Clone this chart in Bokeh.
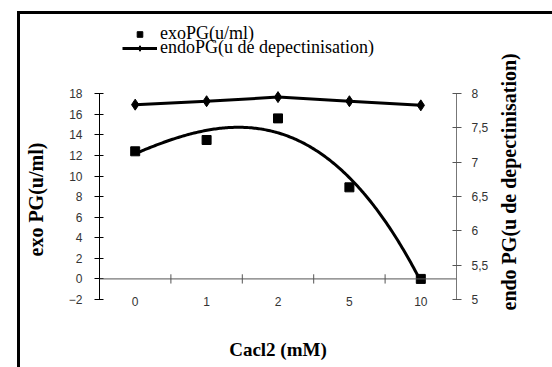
import numpy as np
from jinja2 import Template
from bokeh.plotting import figure
from bokeh.layouts import row
from bokeh.models import (Range1d, LinearAxis, FixedTicker, Span, Legend, LegendItem, Title)
from bokeh.embed import file_html
from bokeh.resources import INLINE
from bokeh.core.templates import FILE

# ---- data ----
categories = ["0", "1", "2", "5", "10"]           # CaCl2 (mM)
exo_pg = [12.4, 13.5, 15.6, 8.9, 0.0]              # exoPG (u/ml), left axis
endo_pg = [7.84, 7.89, 7.95, 7.89, 7.83]           # endoPG (u de depectinisation), right axis
left_ticks = [-2, 0, 2, 4, 6, 8, 10, 12, 14, 16, 18]
right_ticks = [5, 5.5, 6, 6.5, 7, 7.5, 8]

n = len(categories)
xpos = np.arange(n) + 0.5

# polynomial (order 3) trend line for exoPG, as in the spreadsheet
idx = np.arange(1, n + 1)
coef = np.polyfit(idx, exo_pg, 3)
t = np.linspace(1, n, 200)
trend_x = t - 0.5
trend_y = np.polyval(coef, t)

SERIF = "Liberation Serif"
SANS = "Liberation Sans"
H = 367
TOP, BOTTOM = 16, 68

# the frame reaches up to the legend area; axes are bounded to their tick span
left_lo, left_hi = left_ticks[0], left_ticks[-1]
right_lo, right_hi = right_ticks[0], right_ticks[-1]
headroom = 7.5                                   # left-axis units above the top tick (legend area)
scale = (right_hi - right_lo) / (left_hi - left_lo)

p = figure(width=430, height=H, output_backend="svg", toolbar_location=None,
           x_range=Range1d(0, n), y_range=Range1d(left_lo, left_hi + headroom),
           min_border_left=37, min_border_right=36, min_border_top=TOP, min_border_bottom=BOTTOM)
p.extra_y_ranges = {"right": Range1d(right_lo, right_hi + headroom * scale)}
p.grid.visible = False
p.outline_line_color = None
p.background_fill_color = "white"
p.border_fill_color = "white"

# left axis
ya = p.yaxis[0]
ya.bounds = (left_lo, left_hi)
ya.ticker = FixedTicker(ticks=left_ticks)
ya.major_label_text_font = SANS
ya.major_label_text_font_size = "12px"
ya.major_label_text_color = "#333333"
ya.major_label_standoff = 12
ya.major_tick_in = 4
ya.major_tick_out = 5
ya.minor_tick_in = 0
ya.minor_tick_out = 0
ya.axis_line_color = "black"
ya.major_tick_line_color = "black"

# right axis
ra = LinearAxis(y_range_name="right", ticker=FixedTicker(ticks=right_ticks), bounds=(right_lo, right_hi))
ra.major_label_overrides = {v: (f"{v:g}").replace(".", ",") for v in right_ticks}
ra.major_label_text_font = SANS
ra.major_label_text_font_size = "12px"
ra.major_label_text_color = "#333333"
ra.major_label_standoff = 10
ra.major_tick_in = 4
ra.major_tick_out = 5
ra.minor_tick_in = 0
ra.minor_tick_out = 0
ra.axis_line_color = "#777777"
ra.major_tick_line_color = "#555555"
p.add_layout(ra, "right")

# bottom axis: category labels only
xa = p.xaxis[0]
xa.ticker = FixedTicker(ticks=list(xpos))
xa.major_label_overrides = {float(x): c for x, c in zip(xpos, categories)}
xa.axis_line_color = None
xa.major_tick_in = 0
xa.major_tick_out = 0
xa.minor_tick_in = 0
xa.minor_tick_out = 0
xa.major_label_text_font = SANS
xa.major_label_text_font_size = "12px"
xa.major_label_text_color = "#333333"
xa.major_label_standoff = -3
xa.axis_label = "Cacl2 (mM)"
xa.axis_label_text_font = SERIF
xa.axis_label_text_font_style = "bold"
xa.axis_label_text_font_size = "19px"
xa.axis_label_text_color = "black"
xa.axis_label_standoff = 30

# category axis line at y = 0 with ticks between categories
p.add_layout(Span(location=0, dimension="width", line_color="#555555", line_width=1))
bounds = np.arange(1, n)
p.segment(x0=bounds, x1=bounds, y0=-0.45, y1=0.45, line_color="#555555", line_width=1)

# series
r_trend = p.line(trend_x, trend_y, line_color="black", line_width=3)
r_exo = p.scatter(xpos, exo_pg, marker="square", size=9, color="black")
r_endo_l = p.line(xpos, endo_pg, line_color="black", line_width=3, y_range_name="right")
r_endo_m = p.scatter(xpos, endo_pg, marker="diamond", size=11, color="black", y_range_name="right")

legend_style = dict(orientation="vertical", label_text_font=SERIF, label_text_font_size="18px",
                    label_text_color="black", glyph_width=35, glyph_height=14, label_height=14,
                    label_standoff=3, spacing=0, padding=0, margin=0,
                    border_line_color=None, background_fill_alpha=0)
legend_exo = Legend(items=[LegendItem(label="exoPG(u/ml)", renderers=[r_exo])],
                    location=(23, 255), **legend_style)
legend_endo = Legend(items=[LegendItem(label="endoPG(u de depectinisation)",
                                       renderers=[r_endo_l, r_endo_m])],
                     location=(23, 241), **legend_style)
p.add_layout(legend_exo, "center")
p.add_layout(legend_endo, "center")


def title_strip(width, label, size, border_left, offset):
    """Narrow figure that only carries a vertical (bottom-to-top) axis title."""
    f = figure(width=width, height=H, output_backend="svg", toolbar_location=None,
               x_range=Range1d(0, 1), y_range=Range1d(0, 1),
               x_axis_location=None, y_axis_location=None,
               min_border_left=border_left, min_border_right=0,
               min_border_top=TOP, min_border_bottom=BOTTOM)
    f.grid.visible = False
    f.outline_line_color = None
    f.background_fill_color = "white"
    f.border_fill_color = "white"
    f.add_layout(Title(text=label, align="left", offset=offset, standoff=0,
                       text_font=SERIF, text_font_style="bold", text_font_size=size,
                       text_color="black"), "left")
    return f


left_title = title_strip(62, "exo PG(u/ml)", "20px", 46, 43)
right_title = title_strip(60, "endo PG(u de depectinisation)", "20px", 27, -11)

layout = row(left_title, p, right_title, spacing=0)

# page template: the chart-area border (left and top edges) drawn over the page
page = Template("""{% extends base %}
{% block preamble %}
<style>
  html, body { overflow: hidden; }
  body::after { content: ""; position: fixed; left: 17px; top: 11px; width: 560px; height: 400px;
                border-left: 3px solid #000; border-top: 3px solid #000;
                pointer-events: none; z-index: 1000; }
</style>
{% endblock %}""")

open("out.html", "w").write(file_html(layout, INLINE, template=page, template_variables={"base": FILE}))
